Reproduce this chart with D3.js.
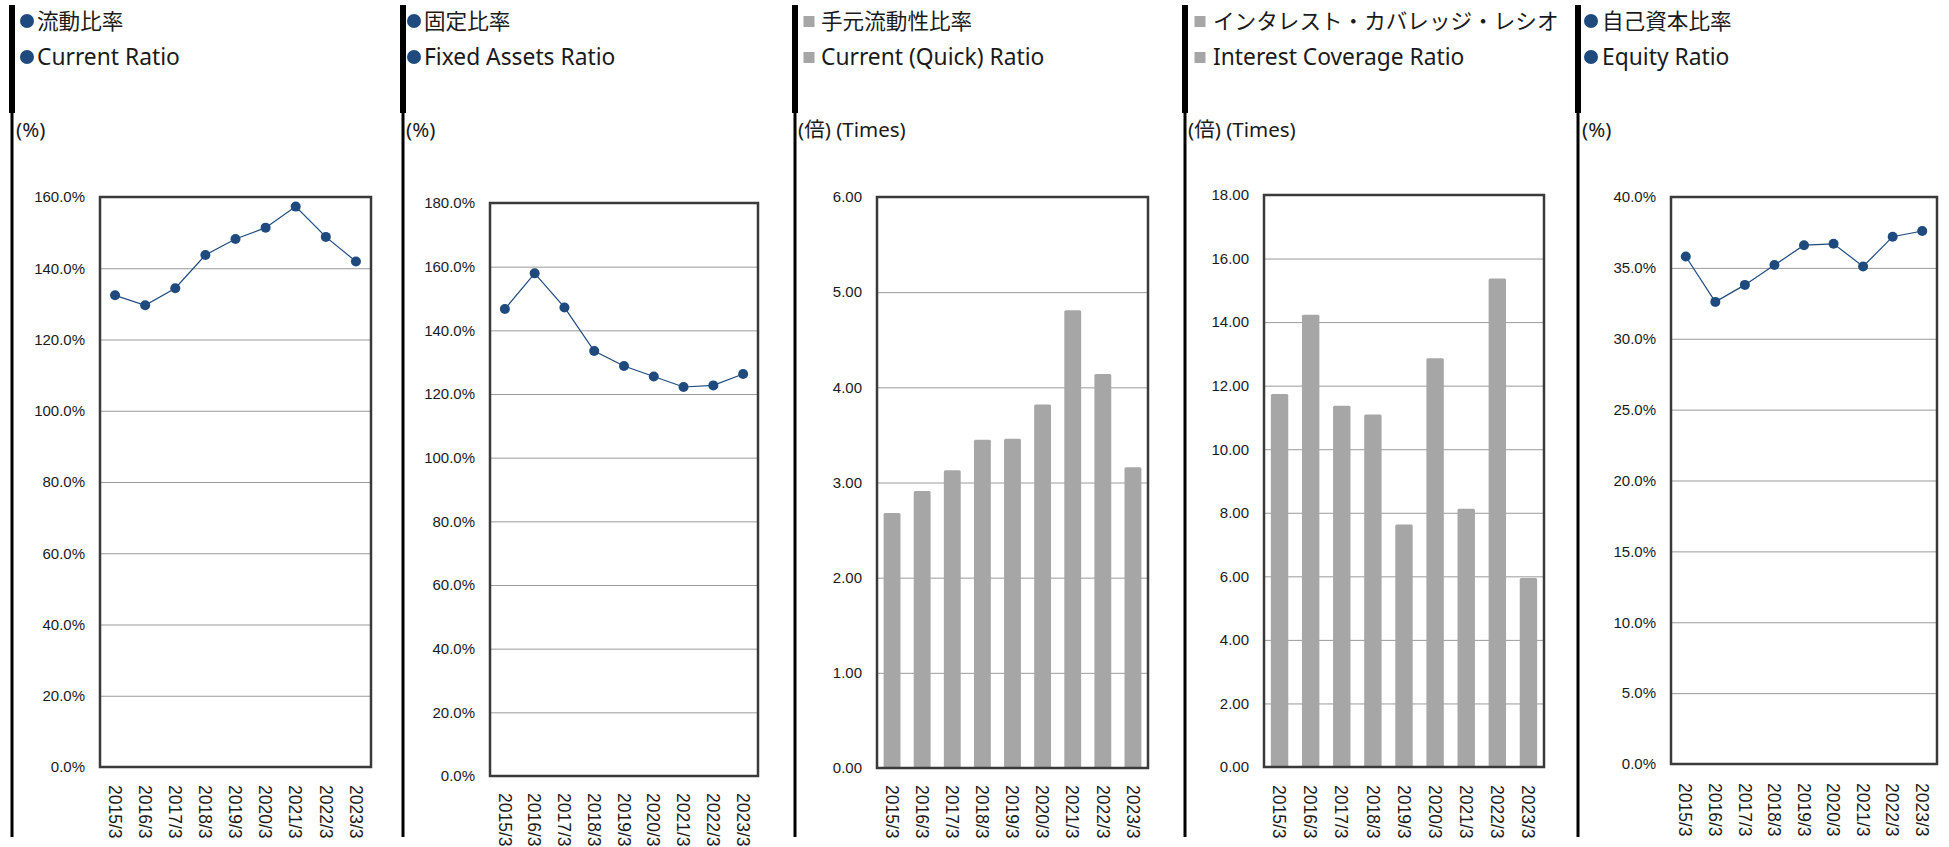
<!DOCTYPE html>
<html>
<head>
<meta charset="utf-8">
<script src="https://cdn.jsdelivr.net/npm/d3@7"></script>
<style>
  html, body { margin: 0; padding: 0; background: #fff; }
  svg { display: block; }
  .legend { font-family: "Noto Sans", "Noto Sans CJK JP", sans-serif; fill: #1a1a1a; }
  .unit { font-family: "Noto Sans", "Noto Sans CJK JP", sans-serif; font-size: 20.5px; fill: #1a1a1a; }
  .tick text { font-family: "Liberation Sans", Arial, sans-serif; fill: #1a1a1a; }
</style>
</head>
<body>
<svg id="chart" width="1949" height="847"></svg>
<script>
// ---------------- data ----------------
const years = ["2015/3","2016/3","2017/3","2018/3","2019/3","2020/3","2021/3","2022/3","2023/3"];

const currentRatio      = [132.4, 129.6, 134.4, 143.7, 148.2, 151.4, 157.3, 148.8, 141.9];
const fixedAssetsRatio  = [146.7, 157.9, 147.2, 133.5, 128.8, 125.5, 122.2, 122.7, 126.3];
const quickRatio        = [2.68, 2.91, 3.13, 3.45, 3.46, 3.82, 4.81, 4.14, 3.16];
const interestCoverage  = [11.74, 14.23, 11.37, 11.09, 7.63, 12.86, 8.13, 15.37, 5.95];
const equityRatio       = [35.8, 32.6, 33.8, 35.2, 36.6, 36.7, 35.1, 37.2, 37.6];

const currentTicks  = [0, 20, 40, 60, 80, 100, 120, 140, 160];
const fixedTicks    = [0, 20, 40, 60, 80, 100, 120, 140, 160, 180];
const quickTicks    = [0, 1, 2, 3, 4, 5, 6];
const interestTicks = [0, 2, 4, 6, 8, 10, 12, 14, 16, 18];
const equityTicks   = [0, 5, 10, 15, 20, 25, 30, 35, 40];

const legendJa = ["流動比率", "固定比率", "手元流動性比率", "インタレスト・カバレッジ・レシオ", "自己資本比率"];
const legendEn = ["Current Ratio", "Fixed Assets Ratio", "Current (Quick) Ratio", "Interest Coverage Ratio", "Equity Ratio"];
const unitLabels = ["(%)", "(%)", "(倍) (Times)", "(倍) (Times)", "(%)"];

// ---------------- layout ----------------
const panels = [
  { values: currentRatio,     ticks: currentTicks,  fmt: d => d.toFixed(1) + "%", type: "line",
    bar: 12, px: 100, py: 197, pw: 271, ph: 570, lx: 27, tx: 37, ux: 16, xl: 785 },
  { values: fixedAssetsRatio, ticks: fixedTicks,    fmt: d => d.toFixed(1) + "%", type: "line",
    bar: 403, px: 490, py: 203, pw: 268, ph: 573, lx: 414, tx: 424, ux: 406, xl: 793 },
  { values: quickRatio,       ticks: quickTicks,    fmt: d => d.toFixed(2), type: "bar",
    bar: 795, px: 877, py: 197, pw: 271, ph: 571, lx: 809, tx: 821, ux: 798, xl: 785 },
  { values: interestCoverage, ticks: interestTicks, fmt: d => d.toFixed(2), type: "bar",
    bar: 1185, px: 1264, py: 195, pw: 280, ph: 572, lx: 1200, tx: 1213, ux: 1188, xl: 785 },
  { values: equityRatio,      ticks: equityTicks,   fmt: d => d.toFixed(1) + "%", type: "line",
    bar: 1578, px: 1671, py: 197, pw: 266, ph: 567, lx: 1591, tx: 1602, ux: 1582, xl: 783 }
];

const blue = "#1f4a7e";
const gray = "#a6a6a6";

const svg = d3.select("#chart");

panels.forEach((p, i) => {
  // separator bars
  svg.append("rect").attr("x", p.bar - 3).attr("y", 5).attr("width", 6).attr("height", 108).attr("fill", "#000");
  svg.append("rect").attr("x", p.bar - 1.5).attr("y", 113).attr("width", 3).attr("height", 724).attr("fill", "#000");

  // legend
  [legendJa[i], legendEn[i]].forEach((t, k) => {
    const cy = 21 + k * 36;
    if (p.type === "line") {
      svg.append("circle").attr("cx", p.lx).attr("cy", cy).attr("r", 7).attr("fill", blue);
    } else {
      svg.append("rect").attr("x", p.lx - 5.5).attr("y", cy - 5).attr("width", 11).attr("height", 11).attr("fill", gray);
    }
    svg.append("text").attr("class", "legend").attr("x", p.tx).attr("y", cy).attr("dy", "0.36em")
      .attr("font-size", k === 0 ? 21.6 : 22.8).text(t);
  });

  // unit label
  svg.append("text").attr("class", "unit").attr("x", p.ux).attr("y", 130).attr("dy", "0.36em").text(unitLabels[i]);

  const g = svg.append("g").attr("transform", `translate(${p.px},${p.py})`);
  const y = d3.scaleLinear().domain([0, d3.max(p.ticks)]).range([p.ph, 0]);
  const x = d3.scaleBand().domain(years).range([0, p.pw]).padding(0);
  const xb = d3.scaleBand().domain(years).range([0, p.pw]).paddingInner(0.44).paddingOuter(0.22);

  // gridlines
  const grid = g.append("g").call(d3.axisLeft(y).tickValues(p.ticks).tickSize(-p.pw).tickFormat(""));
  grid.select(".domain").remove();
  grid.selectAll("line").attr("stroke", "#9a9a9a").attr("stroke-width", 1);

  // marks
  if (p.type === "bar") {
    g.selectAll("rect.bar").data(p.values).join("rect").attr("class", "bar")
      .attr("x", (d, j) => xb(years[j]))
      .attr("y", d => y(d))
      .attr("width", xb.bandwidth())
      .attr("height", d => p.ph - y(d))
      .attr("rx", 1.5)
      .attr("fill", gray);
  } else {
    const line = d3.line().x((d, j) => x(years[j]) + x.bandwidth() / 2).y(d => y(d));
    g.append("path").datum(p.values).attr("d", line).attr("fill", "none").attr("stroke", blue).attr("stroke-width", 1.2);
    g.selectAll("circle.pt").data(p.values).join("circle").attr("class", "pt")
      .attr("cx", (d, j) => x(years[j]) + x.bandwidth() / 2)
      .attr("cy", d => y(d))
      .attr("r", 5)
      .attr("fill", blue);
  }

  // frame
  g.append("rect").attr("x", 0).attr("y", 0).attr("width", p.pw).attr("height", p.ph)
    .attr("fill", "none").attr("stroke", "#3a3a3a").attr("stroke-width", 2.5);

  // y axis labels
  const ya = g.append("g").call(d3.axisLeft(y).tickValues(p.ticks).tickSize(0).tickPadding(15).tickFormat(p.fmt));
  ya.select(".domain").remove();
  ya.selectAll("text").attr("font-size", 15);

  // x axis labels
  const xa = g.append("g").attr("transform", `translate(0,${p.ph})`).call(d3.axisBottom(x).tickSize(0).tickPadding(0));
  xa.select(".domain").remove();
  xa.selectAll("text")
    .attr("font-size", 17.5)
    .attr("text-anchor", "start")
    .attr("transform", `translate(0,${p.xl - p.py - p.ph}) rotate(90)`)
    .attr("x", 0).attr("y", 0).attr("dy", "0.36em");
});
</script>
</body>
</html>
